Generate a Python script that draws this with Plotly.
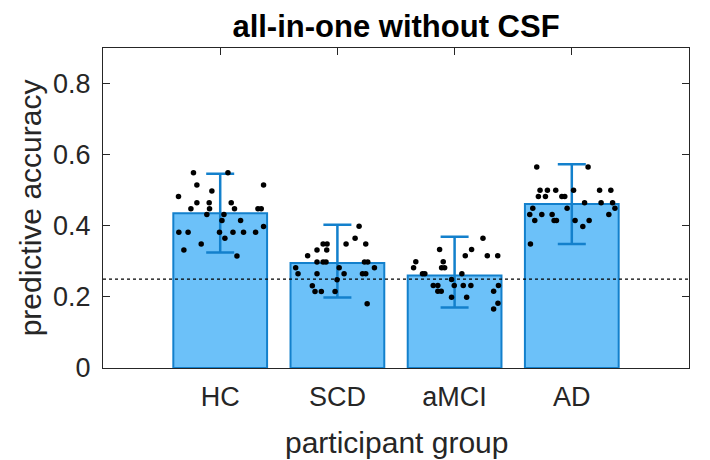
import plotly.graph_objects as go

groups = ["HC", "SCD", "aMCI", "AD"]
bar_means = [0.435, 0.295, 0.260, 0.461]
err_plus = [0.111, 0.108, 0.109, 0.112]
err_minus = [0.110, 0.097, 0.090, 0.112]
chance_level = 0.25

hc_acc = [0.549, 0.549, 0.515, 0.515, 0.498, 0.482, 0.465, 0.465, 0.465, 0.448,
          0.448, 0.448, 0.448, 0.448, 0.432, 0.432, 0.415, 0.415, 0.398, 0.382,
          0.382, 0.382, 0.382, 0.382, 0.382, 0.365, 0.349, 0.332, 0.315]
hc_jit = [-0.228, 0.066, -0.199, 0.370, -0.071, -0.356, -0.199, -0.094, 0.094, -0.250,
          -0.091, 0.122, 0.322, 0.350, -0.114, 0.032, 0.015, 0.174, 0.370, -0.353,
          -0.274, -0.006, 0.109, 0.199, 0.302, 0.040, -0.162, -0.310, 0.143]

scd_acc = [0.399, 0.365, 0.349, 0.349, 0.349, 0.349, 0.332, 0.332, 0.316, 0.298,
           0.298, 0.298, 0.298, 0.298, 0.282, 0.282, 0.282, 0.265, 0.265, 0.265,
           0.265, 0.265, 0.248, 0.231, 0.215, 0.215, 0.215, 0.181]
scd_jit = [0.185, 0.151, -0.122, -0.088, 0.074, 0.242, -0.174, -0.091, -0.254, -0.174,
           -0.122, -0.097, 0.231, 0.259, -0.356, 0.015, 0.316, -0.336, -0.174, 0.057,
           0.214, 0.242, -0.003, -0.214, -0.191, -0.137, -0.020, 0.254]

amci_acc = [0.365, 0.333, 0.333, 0.316, 0.316, 0.316, 0.299, 0.299, 0.282, 0.282,
            0.282, 0.265, 0.265, 0.265, 0.249, 0.232, 0.232, 0.232, 0.232, 0.232,
            0.232, 0.216, 0.216, 0.216, 0.199, 0.199, 0.182, 0.166]
amci_jit = [0.242, -0.128, 0.145, 0.091, 0.279, 0.368, -0.331, -0.097, -0.350, -0.111,
            -0.085, -0.274, -0.254, 0.062, -0.026, -0.182, -0.143, -0.003, 0.074, 0.139,
            0.374, -0.143, -0.114, 0.333, -0.026, 0.103, 0.370, 0.333]

ad_acc = [0.565, 0.565, 0.500, 0.500, 0.500, 0.500, 0.500, 0.500, 0.482, 0.482,
          0.482, 0.482, 0.465, 0.465, 0.465, 0.449, 0.449, 0.449, 0.432, 0.432,
          0.432, 0.432, 0.415, 0.415, 0.415, 0.415, 0.415, 0.398, 0.349]
ad_jit = [-0.299, 0.139, -0.271, -0.208, -0.137, 0.015, 0.237, 0.333, -0.285, -0.225,
          -0.085, -0.060, 0.109, 0.250, 0.348, -0.333, -0.040, 0.368, -0.359, -0.256,
          -0.168, 0.316, -0.316, -0.151, -0.131, 0.028, 0.148, 0.094, -0.353]

all_acc = [hc_acc, scd_acc, amci_acc, ad_acc]
all_jit = [hc_jit, scd_jit, amci_jit, ad_jit]

FILL = "#6CC1F9"
EDGE = "#1380CC"
AXC = "#262626"
FONT = "Liberation Sans, Arial, sans-serif"

pos = [1, 2, 3, 4]

# page has an 8px body margin, so the figure is 8px smaller in each direction
W, H = 702, 452

fig = go.Figure()
fig.add_trace(go.Bar(
    x=pos, y=bar_means, width=0.8,
    marker=dict(color=FILL, line=dict(color=EDGE, width=2)),
    error_y=dict(type="data", symmetric=False, array=err_plus, arrayminus=err_minus,
                 color=EDGE, thickness=2.5, width=14),
    showlegend=False, hoverinfo="skip",
))

fig.add_trace(go.Scatter(
    x=[0, 5], y=[chance_level, chance_level], mode="lines",
    line=dict(color="black", width=1.3, dash="dot"),
    showlegend=False, hoverinfo="skip",
))

for p, acc, jit in zip(pos, all_acc, all_jit):
    fig.add_trace(go.Scatter(
        x=[p + j for j in jit], y=acc, mode="markers",
        marker=dict(color="black", size=5.5),
        showlegend=False, cliponaxis=False,
    ))

fig.update_layout(
    width=W, height=H,
    margin=dict(l=95, r=21, t=40, b=92, autoexpand=False),
    plot_bgcolor="white", paper_bgcolor="white",
    font=dict(family=FONT, color=AXC),
    title=dict(text="<b>all-in-one without CSF</b>", x=388 / W, xanchor="center",
               y=1 - 18 / H, yanchor="middle", yref="container",
               font=dict(family=FONT, size=31, color="black")),
    xaxis=dict(range=[0, 5], tickvals=pos, ticktext=groups, ticks="inside", ticklen=7,
               tickcolor=AXC, showline=True, linecolor=AXC, linewidth=1, mirror="ticks",
               showgrid=False, zeroline=False, layer="below traces",
               tickfont=dict(family=FONT, size=27, color=AXC), ticklabelstandoff=5),
    yaxis=dict(range=[0, 0.9], tickvals=[0, 0.2, 0.4, 0.6, 0.8],
               ticktext=["0", "0.2", "0.4", "0.6", "0.8"], ticks="inside", ticklen=7,
               tickcolor=AXC, showline=True, linecolor=AXC, linewidth=1, mirror="ticks",
               showgrid=False, zeroline=False, layer="below traces",
               tickfont=dict(family=FONT, size=27, color=AXC), ticklabelstandoff=6),
    annotations=[
        dict(text="participant group", xref="paper", yref="paper", x=0.5, y=-0.233,
             xanchor="center", yanchor="middle", showarrow=False,
             font=dict(family=FONT, size=30, color=AXC)),
        dict(text="predictive accuracy", xref="paper", yref="paper", x=-0.124, y=0.5,
             xanchor="center", yanchor="middle", showarrow=False, textangle=-90,
             font=dict(family=FONT, size=30, color=AXC)),
    ],
)

fig.write_html("out.html")
